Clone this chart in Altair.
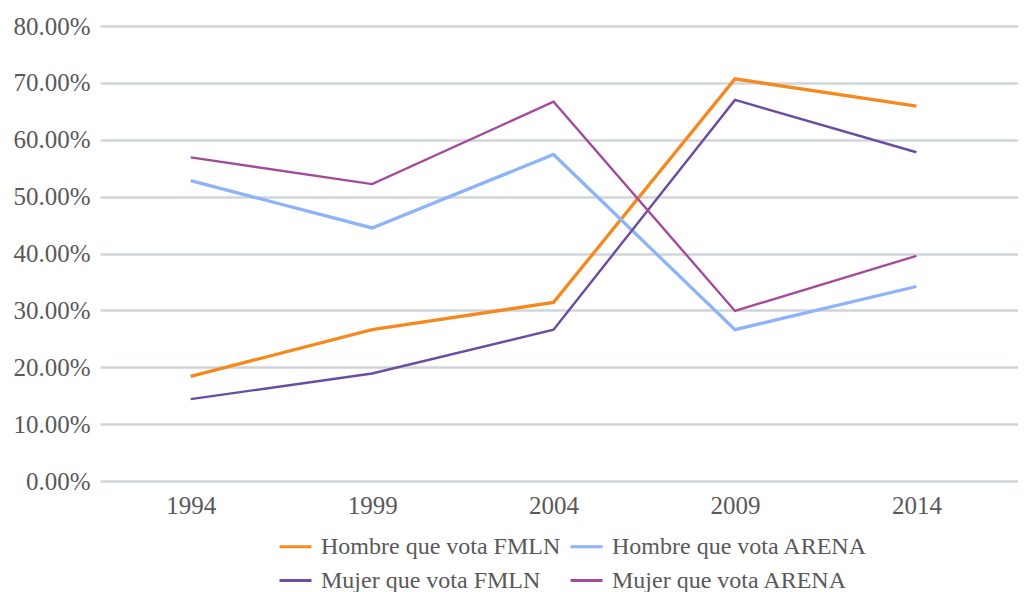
import altair as alt
import pandas as pd

years = [1994, 1999, 2004, 2009, 2014]
series_names = [
    "Hombre que vota FMLN",
    "Hombre que vota ARENA",
    "Mujer que vota FMLN",
    "Mujer que vota ARENA",
]
hombre_fmln = [18.4, 26.6, 31.4, 70.7, 65.9]
hombre_arena = [52.8, 44.5, 57.4, 26.6, 34.2]
mujer_fmln = [14.4, 18.9, 26.6, 67.0, 57.8]
mujer_arena = [56.9, 52.2, 66.7, 29.9, 39.6]
colors = ["#F48A1F", "#8DB4F9", "#6A4CA0", "#A34B9B"]
line_group = ["gruesa", "gruesa", "fina", "fina"]
y_ticks = [0, 0.1, 0.2, 0.3, 0.4, 0.5, 0.6, 0.7, 0.8]

rows = []
for name, grp, vals in zip(series_names, line_group,
                           [hombre_fmln, hombre_arena, mujer_fmln, mujer_arena]):
    for yr, v in zip(years, vals):
        rows.append({"Año": yr, "Serie": name, "Grosor": grp, "Valor": v / 100})
df = pd.DataFrame(rows)

FONT = "Liberation Serif"
GRAY = "#595959"

chart = alt.Chart(df).mark_line().encode(
    x=alt.X(
        "Año:Q",
        scale=alt.Scale(domain=[1991.5, 2016.8], nice=False, zero=False),
        axis=alt.Axis(
            title=None, values=years, format="d", grid=False, domain=False, ticks=False,
            labelFont=FONT, labelFontSize=25, labelColor=GRAY, labelPadding=12,
        ),
    ),
    y=alt.Y(
        "Valor:Q",
        scale=alt.Scale(domain=[0, 0.8], nice=False),
        axis=alt.Axis(
            title=None, values=y_ticks, format=".2%", domain=False, ticks=False,
            gridColor="#D0D5DB", gridWidth=2.5,
            labelFont=FONT, labelFontSize=25, labelColor=GRAY, labelPadding=10,
        ),
    ),
    color=alt.Color(
        "Serie:N",
        scale=alt.Scale(domain=series_names, range=colors),
        legend=alt.Legend(
            title=None, orient="none", legendX=178, legendY=503, columns=2,
            direction="horizontal",
            symbolType="stroke", symbolSize=1024, symbolStrokeWidth=3,
            labelFont=FONT, labelFontSize=24, labelColor=GRAY, labelOffset=8,
            columnPadding=3, rowPadding=4, labelLimit=400,
        ),
    ),
    size=alt.Size(
        "Grosor:N",
        scale=alt.Scale(domain=["gruesa", "fina"], range=[3.3, 2.4]),
        legend=None,
    ),
    detail="Serie:N",
    order=alt.Order("Año:Q"),
).properties(
    width=918,
    height=455,
    autosize=alt.AutoSizeParams(type="none"),
    padding={"left": 92, "top": 18, "right": 0, "bottom": 111},
).configure_view(stroke=None)

chart.save("out.html", embed_options={"renderer": "svg", "actions": False})
